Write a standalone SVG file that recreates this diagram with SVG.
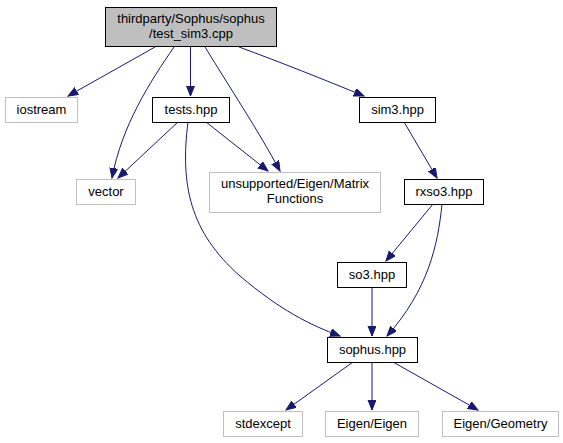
<svg xmlns="http://www.w3.org/2000/svg" width="563" height="443" viewBox="0 0 563 443">
<style>
text{font-family:"Liberation Sans",Arial,sans-serif;font-size:13px;text-anchor:middle;fill:#000}
.g rect{fill:#fff;stroke:#bfbfbf;stroke-width:1}
.b rect{fill:#fff;stroke:#000;stroke-width:1}
.e{fill:none;stroke:#191970;stroke-width:1;marker-end:url(#ah)}
</style>
<defs>
<marker id="ah" markerUnits="userSpaceOnUse" markerWidth="12" markerHeight="10" refX="10" refY="4" orient="auto">
<path d="M0,0 L10,4 L0,8 z" fill="#191970" stroke="#191970" stroke-width="1"/>
</marker>
</defs>
<rect width="563" height="443" fill="#fff"/>
<g id="connectors">
<path class="e" d="M155,47 L68,96"/>
<path class="e" d="M174,47 C150,82 122,125 112,178"/>
<path class="e" d="M190.5,47 L190.5,96"/>
<path class="e" d="M205,47 C230,88 258,130 280,171"/>
<path class="e" d="M239,47 C280,62 325,80 364,96"/>
<path class="e" d="M178,122 L118,178"/>
<path class="e" d="M206,122 L268,171"/>
<path class="e" d="M188,122 C180,185 190,232 240,276 C280,310 310,325 340,336"/>
<path class="e" d="M404,122 L437,178"/>
<path class="e" d="M433,204 L386,261"/>
<path class="e" d="M442,204 C438,245 428,290 387,336"/>
<path class="e" d="M372,287 L372,336"/>
<path class="e" d="M353,362 L286,410"/>
<path class="e" d="M372,362 L372,410"/>
<path class="e" d="M393,362 L478,410"/>
</g>
<g id="root" class="b"><rect x="105.5" y="7.5" width="171" height="39" style="fill:#bfbfbf"/><text x="191" y="23">thirdparty/Sophus/sophus</text><text x="191" y="38">/test_sim3.cpp</text></g>
<g id="iostream" class="g"><rect x="5.5" y="97.5" width="72" height="25"/><text x="41.5" y="114">iostream</text></g>
<g id="tests" class="b"><rect x="152.5" y="97.5" width="77" height="25"/><text x="191" y="114">tests.hpp</text></g>
<g id="sim3" class="b"><rect x="359.5" y="97.5" width="76" height="25"/><text x="397.5" y="114">sim3.hpp</text></g>
<g id="vector" class="g"><rect x="76.5" y="179.5" width="59" height="25"/><text x="106" y="196">vector</text></g>
<g id="unsupported" class="g"><rect x="209.5" y="172.5" width="171" height="40"/><text x="295" y="188">unsupported/Eigen/Matrix</text><text x="295" y="203">Functions</text></g>
<g id="rxso3" class="b"><rect x="404.5" y="179.5" width="79" height="25"/><text x="444" y="196">rxso3.hpp</text></g>
<g id="so3" class="b"><rect x="337.5" y="262.5" width="69" height="25"/><text x="372" y="279">so3.hpp</text></g>
<g id="sophus" class="b"><rect x="327.5" y="337.5" width="90" height="25"/><text x="372.5" y="354">sophus.hpp</text></g>
<g id="stdexcept" class="g"><rect x="223.5" y="411.5" width="79" height="25"/><text x="263" y="428">stdexcept</text></g>
<g id="eigen" class="g"><rect x="325.5" y="411.5" width="93" height="25"/><text x="372" y="428">Eigen/Eigen</text></g>
<g id="geometry" class="g"><rect x="442.5" y="411.5" width="116" height="25"/><text x="500.5" y="428">Eigen/Geometry</text></g>
</svg>
